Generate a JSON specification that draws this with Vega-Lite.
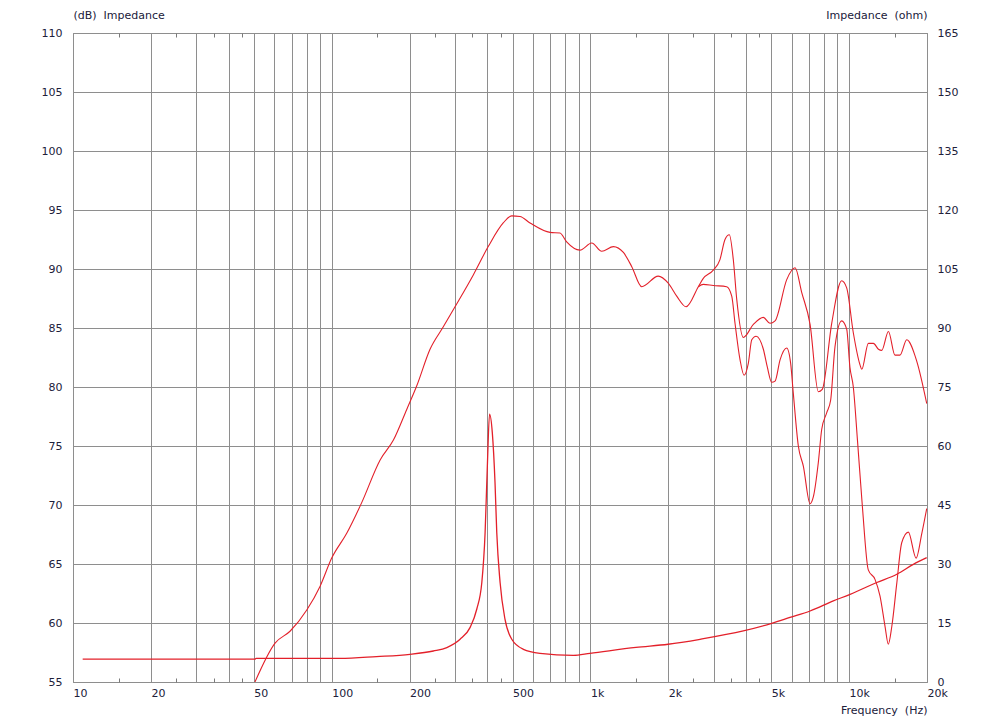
{
  "$schema": "https://vega.github.io/schema/vega-lite/v6.json",
  "width": 854,
  "height": 649,
  "autosize": "none",
  "padding": {"left": 73, "top": 33, "right": 73, "bottom": 40},
  "background": "white",
  "config": {
    "view": {"stroke": "#7a7a7a", "strokeWidth": 1},
    "axis": {"labelFont": "DejaVu Sans", "labelFontSize": 11, "labelColor": "#20203a", "titleFont": "DejaVu Sans", "titleFontSize": 11, "titleFontWeight": "normal", "titleColor": "#20203a", "domain": false}
  },
  "datasets": {
    "splA": [
      {"f": 50.5, "v": 55.0}, {"f": 60.4, "v": 58.3}, {"f": 69.0, "v": 59.3}, {"f": 80.1, "v": 61.1}, {"f": 90.1, "v": 63.1},
      {"f": 100, "v": 65.5}, {"f": 114.3, "v": 67.6}, {"f": 130.6, "v": 70.2}, {"f": 153.7, "v": 73.8}, {"f": 173.2, "v": 75.5},
      {"f": 195, "v": 78.1}, {"f": 213.2, "v": 80.1}, {"f": 239.9, "v": 83.2}, {"f": 270, "v": 85.1}, {"f": 299.7, "v": 86.8},
      {"f": 352.6, "v": 89.5}, {"f": 402.7, "v": 91.9}, {"f": 460.2, "v": 93.9}, {"f": 496.2, "v": 94.5}, {"f": 534.2, "v": 94.45},
      {"f": 584.3, "v": 93.9}, {"f": 698.3, "v": 93.1}, {"f": 762.6, "v": 93.05}, {"f": 809.5, "v": 92.3}, {"f": 911.5, "v": 91.6},
      {"f": 1012, "v": 92.2}, {"f": 1106, "v": 91.5}, {"f": 1227, "v": 91.9}, {"f": 1341, "v": 91.4}, {"f": 1445, "v": 90.2},
      {"f": 1579, "v": 88.5}, {"f": 1829, "v": 89.4}, {"f": 1999, "v": 88.8}, {"f": 2156, "v": 87.7}, {"f": 2343, "v": 86.8},
      {"f": 2613, "v": 88.5}, {"f": 2731, "v": 89.2}, {"f": 2985, "v": 89.9}, {"f": 3168, "v": 90.8}, {"f": 3313, "v": 92.5},
      {"f": 3443, "v": 92.9}, {"f": 3567, "v": 90.8}, {"f": 3679, "v": 87.4}, {"f": 3900, "v": 84.2}, {"f": 4265, "v": 85.3},
      {"f": 4660, "v": 85.9}, {"f": 4945, "v": 85.4}, {"f": 5172, "v": 85.6}, {"f": 5739, "v": 89.1}, {"f": 6180, "v": 90.1},
      {"f": 6560, "v": 88.0}, {"f": 7064, "v": 85.3}, {"f": 7602, "v": 79.6}, {"f": 7874, "v": 79.8}, {"f": 8565, "v": 85.4},
      {"f": 9356, "v": 89.0}, {"f": 9785, "v": 88.4}, {"f": 10380, "v": 84.6}, {"f": 11010, "v": 81.9}, {"f": 11190, "v": 81.5},
      {"f": 11870, "v": 83.7}, {"f": 12410, "v": 83.7}, {"f": 12980, "v": 83.2}, {"f": 13370, "v": 83.1}, {"f": 14190, "v": 84.7},
      {"f": 15040, "v": 82.7}, {"f": 15730, "v": 82.7}, {"f": 16700, "v": 84.0}, {"f": 18250, "v": 82.2}, {"f": 19950, "v": 78.6}
    ],
    "splB": [
      {"f": 2613, "v": 88.5}, {"f": 2731, "v": 88.7}, {"f": 2985, "v": 88.6}, {"f": 3363, "v": 88.5}, {"f": 3518, "v": 87.7},
      {"f": 3622, "v": 85.4}, {"f": 3788, "v": 82.3}, {"f": 3926, "v": 81.0}, {"f": 4077, "v": 82.0}, {"f": 4204, "v": 84.0},
      {"f": 4368, "v": 84.3}, {"f": 4661, "v": 83.2}, {"f": 4827, "v": 81.7}, {"f": 5020, "v": 80.4}, {"f": 5172, "v": 80.5},
      {"f": 5408, "v": 82.3}, {"f": 5739, "v": 83.3}, {"f": 5943, "v": 82.0}, {"f": 6083, "v": 79.5}, {"f": 6363, "v": 75.0},
      {"f": 6653, "v": 73.3}, {"f": 7064, "v": 70.1}, {"f": 7275, "v": 70.7}, {"f": 7602, "v": 73.6}, {"f": 7834, "v": 76.4},
      {"f": 8188, "v": 77.8}, {"f": 8486, "v": 78.9}, {"f": 8817, "v": 83.4}, {"f": 9356, "v": 85.6}, {"f": 9785, "v": 84.9},
      {"f": 10070, "v": 81.7}, {"f": 10380, "v": 80.0}, {"f": 10770, "v": 75.5}, {"f": 11250, "v": 69.9}, {"f": 11860, "v": 64.5},
      {"f": 12590, "v": 63.7}, {"f": 13160, "v": 62.3}, {"f": 13770, "v": 59.7}, {"f": 14170, "v": 58.2}, {"f": 14620, "v": 59.7},
      {"f": 15290, "v": 63.4}, {"f": 15970, "v": 66.8}, {"f": 16940, "v": 67.7}, {"f": 18150, "v": 65.5}, {"f": 19100, "v": 67.6},
      {"f": 19950, "v": 69.7}
    ],
    "imp": [
      {"f": 10.9, "v": 5.8}, {"f": 50.5, "v": 5.8}, {"f": 51, "v": 6.0}, {"f": 107.7, "v": 6.0}, {"f": 149, "v": 6.46},
      {"f": 200.8, "v": 7.04}, {"f": 247, "v": 7.88}, {"f": 278.6, "v": 8.75}, {"f": 313.5, "v": 10.86}, {"f": 342.5, "v": 13.83},
      {"f": 363.6, "v": 18.5}, {"f": 380.4, "v": 25.3}, {"f": 391.7, "v": 38.0}, {"f": 399.6, "v": 54.9}, {"f": 407.5, "v": 68.1},
      {"f": 417.6, "v": 63.4}, {"f": 427.8, "v": 50.7}, {"f": 434.5, "v": 38.0}, {"f": 447.6, "v": 25.3}, {"f": 467.7, "v": 15.9},
      {"f": 496.6, "v": 10.86}, {"f": 550.8, "v": 8.31}, {"f": 638.6, "v": 7.3}, {"f": 858.4, "v": 6.79}, {"f": 996, "v": 7.3},
      {"f": 1500, "v": 8.8}, {"f": 1997, "v": 9.6}, {"f": 2653, "v": 10.86}, {"f": 3899, "v": 12.97}, {"f": 5020, "v": 14.9},
      {"f": 5909, "v": 16.4}, {"f": 7064, "v": 18.05}, {"f": 8690, "v": 20.6}, {"f": 10090, "v": 22.3}, {"f": 12790, "v": 25.3},
      {"f": 15290, "v": 27.4}, {"f": 17710, "v": 29.9}, {"f": 19950, "v": 31.6}
    ]
  },
  "resolve": {"scale": {"y": "independent"}, "axis": {"x": "independent", "y": "independent"}},
  "layer": [
    {
      "data": {"name": "splA"},
      "mark": {"type": "line", "color": "#e3202a", "strokeWidth": 1.1, "clip": true, "interpolate": "monotone"},
      "encoding": {
        "x": {"field": "f", "type": "quantitative",
          "scale": {"type": "log", "domain": [10, 20000], "nice": false},
          "axis": {"orient": "bottom", "title": "Frequency\u00a0\u00a0(Hz)", "titleAngle": 0, "titleAlign": "right", "titleBaseline": "middle", "titleX": 854, "titleY": 28,
            "values": [10,20,30,40,50,60,70,80,90,100,200,300,400,500,600,700,800,900,1000,2000,3000,4000,5000,6000,7000,8000,9000,10000,20000],
            "labelExpr": "(datum.value == 10 || datum.value == 20 || datum.value == 50 || datum.value == 100 || datum.value == 200 || datum.value == 500) ? ('' + datum.value) : ((datum.value == 1000 || datum.value == 2000 || datum.value == 5000 || datum.value == 10000 || datum.value == 20000) ? ((datum.value / 1000) + 'k') : '')",
            "labelAlign": "left", "labelBaseline": "middle", "labelPadding": 11, "labelFlush": false, "labelOverlap": false, "labelBound": false,
            "ticks": false, "tickSize": 0, "grid": true, "gridColor": "#8e8e8e", "gridWidth": 1}},
        "y": {"field": "v", "type": "quantitative",
          "scale": {"domain": [55, 110], "nice": false, "zero": false},
          "axis": {"orient": "left", "title": "(dB)\u00a0\u00a0Impedance", "titleAngle": 0, "titleAlign": "left", "titleBaseline": "middle", "titleX": 0, "titleY": -18,
            "values": [55,60,65,70,75,80,85,90,95,100,105,110], "ticks": false, "tickSize": 0, "labelPadding": 11, "labelBaseline": "middle", "labelFlush": false, "labelOverlap": false,
            "grid": true, "gridColor": "#8e8e8e", "gridWidth": 1}}
      }
    },
    {
      "data": {"name": "splB"},
      "mark": {"type": "line", "color": "#e3202a", "strokeWidth": 1.1, "clip": true, "interpolate": "monotone"},
      "encoding": {
        "x": {"field": "f", "type": "quantitative",
          "scale": {"type": "log", "domain": [10, 20000], "nice": false},
          "axis": {"orient": "bottom", "title": null, "labels": false, "grid": false, "ticks": true, "tickSize": -4, "tickColor": "#7a7a7a",
            "values": [15,25,35,45,150,250,350,450,1500,2500,3500,4500,15000]}},
        "y": {"field": "v", "type": "quantitative", "scale": {"domain": [55, 110], "nice": false, "zero": false}, "axis": null}
      }
    },
    {
      "data": {"name": "imp"},
      "mark": {"type": "line", "color": "#e3202a", "strokeWidth": 1.3, "clip": true, "interpolate": "monotone"},
      "encoding": {
        "x": {"field": "f", "type": "quantitative",
          "scale": {"type": "log", "domain": [10, 20000], "nice": false},
          "axis": {"orient": "top", "title": null, "labels": false, "grid": false, "ticks": true, "tickSize": -4, "tickColor": "#7a7a7a",
            "values": [15,25,35,45,150,250,350,450,1500,2500,3500,4500,15000]}},
        "y": {"field": "v", "type": "quantitative",
          "scale": {"domain": [0, 165], "nice": false},
          "axis": {"orient": "right", "title": "Impedance\u00a0\u00a0(ohm)", "titleAngle": 0, "titleAlign": "right", "titleBaseline": "middle", "titleX": 0, "titleY": -18,
            "values": [0,15,30,45,60,75,90,105,120,135,150,165], "ticks": false, "tickSize": 0, "labelPadding": 10, "labelBaseline": "middle", "labelFlush": false, "labelOverlap": false, "grid": false}}
      }
    }
  ]
}
